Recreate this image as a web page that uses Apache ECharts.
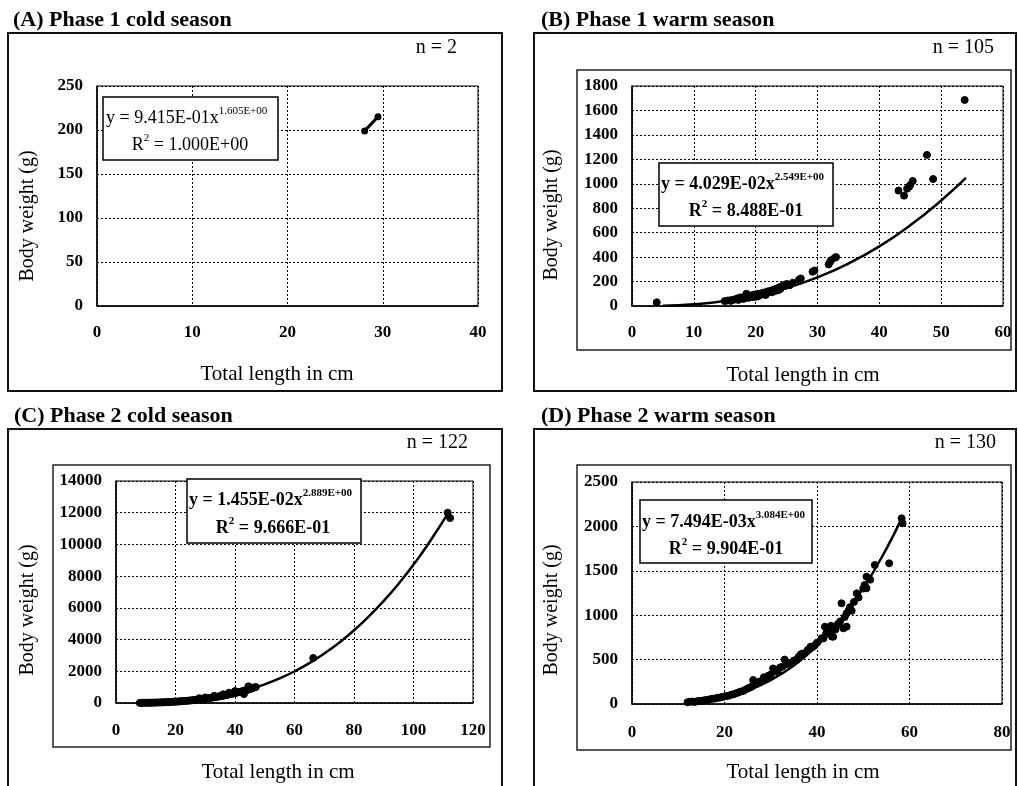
<!DOCTYPE html>
<html>
<head>
<meta charset="utf-8">
<script src="https://cdn.jsdelivr.net/npm/echarts@6/dist/echarts.min.js"></script>
<style>
  html, body { margin: 0; padding: 0; background: #fff; }
  #chart { width: 1018px; height: 786px; }
</style>
</head>
<body>
<div id="chart"></div>
<script>
// ---------------- DATA ----------------
const panelTitles = ['(A) Phase 1 cold season', '(B) Phase 1 warm season', '(C) Phase 2 cold season', '(D) Phase 2 warm season'];
const sampleSizes = ['n = 2', 'n = 105', 'n = 122', 'n = 130'];
const equations = ['y = 9.415E-01x', 'y = 4.029E-02x', 'y = 1.455E-02x', 'y = 7.494E-03x'];
const exponents = ['1.605E+00', '2.549E+00', '2.889E+00', '3.084E+00'];
const rSquared = ['1.000E+00', '8.488E-01', '9.666E-01', '9.904E-01'];
const xAxisTitle = 'Total length in cm';
const yAxisTitle = 'Body weight (g)';

// axis ranges: [min, max, interval]
const xRanges = [[0, 40, 10], [0, 60, 10], [0, 120, 20], [0, 80, 20]];
const yRanges = [[0, 250, 50], [0, 1800, 200], [0, 14000, 2000], [0, 2500, 500]];

// (A) Phase 1 cold season
const phase1ColdPoints = [[28.1, 199], [29.5, 215]];

// (B) Phase 1 warm season
const phase1WarmPoints = [
  [4, 30], [15, 40], [15.5, 45], [16, 48], [16, 42], [16.5, 52], [17, 55], [17, 62], [17.2, 50],
  [17.5, 60], [17.5, 70], [18, 58], [18, 72], [18.3, 65], [18.5, 100], [18.7, 80], [18.8, 68],
  [19, 70], [19, 85], [19.3, 78], [19.5, 90], [19.6, 74], [19.8, 82], [20, 75], [20, 95],
  [20.2, 88], [20.4, 80], [20.5, 100], [20.5, 85], [20.8, 92], [21, 105], [21, 95], [21.3, 110],
  [21.5, 100], [21.6, 90], [21.8, 115], [22, 108], [22, 120], [22.3, 118], [22.5, 125], [22.6, 112],
  [22.8, 130], [23, 135], [23, 120], [23.3, 140], [23.5, 145], [23.6, 128], [23.8, 150], [24, 155],
  [24, 140], [24.3, 160], [24.5, 170], [24.8, 165], [25, 180], [25.2, 175], [25.5, 170], [26, 190],
  [27, 215], [27.3, 225], [29.2, 280], [29.5, 290], [31.8, 340], [32, 360], [32.2, 375], [32.8, 395],
  [33, 400], [43.1, 944], [44, 903], [44.5, 960], [44.8, 976], [45, 990], [45.4, 1023],
  [47.7, 1236], [48.7, 1039], [53.8, 1686]
];
const phase1WarmFit = [[5, 2], [10, 14], [15, 40], [20, 84], [25, 147], [30, 235], [35, 347], [40, 488], [45, 660], [50, 863], [54, 1048]];

// (C) Phase 2 cold season
const phase2ColdPoints = [
  [8, 6], [8.5, 8], [9, 9], [9.5, 10], [10, 12], [10.5, 14], [11, 15], [11.5, 18], [12, 20], [12.5, 23],
  [13, 25], [13.5, 28], [14, 31], [14.5, 35], [15, 38], [15.5, 42], [16, 45], [16.5, 50], [17, 55],
  [17.5, 58], [18, 65], [18.5, 68], [19, 75], [19.5, 80], [20, 85], [20.5, 90], [21, 98], [21.5, 104],
  [22, 110], [22.5, 120], [23, 125], [23.5, 135], [24, 142], [24.5, 150], [25, 160], [25.5, 168],
  [26, 180], [26.5, 188], [27, 200], [27.5, 210], [28, 220], [28, 300], [28.5, 235], [29, 245],
  [29.5, 258], [30, 270], [30, 350], [30.5, 285], [31, 300], [31.5, 310], [32, 330], [32.5, 345],
  [33, 360], [33, 450], [33.5, 375], [34, 395], [34.5, 410], [35, 420], [35.5, 440], [36, 460],
  [36, 550], [36.5, 480], [37, 500], [37.5, 520], [38, 540], [38, 650], [38.5, 560], [39, 580],
  [39.5, 600], [40, 620], [40, 750], [40.5, 650], [41, 670], [41.5, 690], [42, 720], [42.5, 740],
  [42.8, 630], [43, 770], [43, 560], [43.5, 800], [44, 820], [44.5, 850], [44.5, 1050], [45, 880],
  [45, 1000], [45.5, 910], [46, 950], [46.5, 980], [47, 1010], [66.3, 2837], [111.5, 12000], [112.3, 11665]
];
const phase2ColdFit = [[8, 6], [10, 11], [15, 36], [20, 84], [25, 159], [30, 269], [35, 420], [40, 619], [45, 870],
  [50, 1179], [55, 1551], [60, 1996], [65, 2514], [70, 3120], [75, 3805], [80, 4585], [85, 5463],
  [90, 6437], [95, 7522], [100, 8730], [105, 10045], [112, 12090]];

// (D) Phase 2 warm season
const phase2WarmPoints = [
  [12, 20], [12.5, 25], [13, 28], [13.5, 22], [14, 30], [14.5, 33], [15, 35], [15.5, 40], [16, 45],
  [16.5, 48], [17, 55], [17.5, 60], [18, 62], [18.5, 70], [19, 72], [19.5, 80], [20, 85], [20.5, 90],
  [21, 95], [21.5, 105], [22, 110], [22.5, 120], [23, 130], [23.5, 140], [24, 145], [24.5, 160],
  [25, 175], [25.5, 185], [26, 200], [26.2, 270], [26.5, 220], [27, 230], [27.5, 250], [28, 260],
  [28.5, 300], [29, 280], [29.5, 320], [30, 330], [30.5, 400], [31, 380], [31.5, 360], [32, 410],
  [32.5, 420], [33, 500], [33.5, 450], [34, 460], [35, 490], [35.6, 495], [36, 530], [36.5, 560],
  [37, 570], [38, 610], [38.6, 645], [39, 640], [39.5, 660], [40, 690], [41, 740], [41.4, 740],
  [41.7, 871], [42, 800], [42.5, 850], [42.8, 796], [43, 880], [43.2, 760], [43.5, 758], [44, 840],
  [44.5, 900], [45, 930], [45.3, 1134], [45.7, 852], [46, 980], [46.4, 1021], [46.4, 871], [46.8, 1050],
  [47.1, 1090], [47.5, 1050], [48, 1150], [48.6, 1246], [49, 1200], [50, 1300], [50.3, 1340],
  [50.7, 1434], [50.7, 1303], [51.5, 1400], [52.5, 1565], [55.6, 1584], [58.3, 2091], [58.5, 2035]
];
const phase2WarmFit = [[12, 16], [15, 32], [20, 77], [25, 153], [30, 269], [35, 433], [40, 654], [45, 941], [50, 1303], [55, 1748], [58.5, 2113]];

// ---------------- LAYOUT ----------------
const FONT = "'Liberation Serif', 'Times New Roman', serif";
const grids = [
  { left: 97, top: 86, width: 381, height: 220 },
  { left: 632, top: 86, width: 371, height: 220 },
  { left: 116, top: 481, width: 357, height: 222 },
  { left: 632, top: 482, width: 370, height: 222 }
];
const xLabelMargins = [18, 18, 19, 20];

const chart = echarts.init(document.getElementById('chart'));

const plainNumber = v => String(v);

const xAxes = xRanges.map((r, i) => ({
  type: 'value', gridIndex: i, min: r[0], max: r[1], interval: r[2],
  axisLine: { show: true, onZero: false, lineStyle: { color: '#000', width: 1.5 } },
  axisTick: { show: false },
  axisLabel: { color: '#000', fontFamily: FONT, fontWeight: 'bold', fontSize: 17, margin: xLabelMargins[i], formatter: plainNumber },
  splitLine: { show: true, lineStyle: { color: '#000', width: 1, type: [2, 2] } }
}));
const yAxes = yRanges.map((r, i) => ({
  type: 'value', gridIndex: i, min: r[0], max: r[1], interval: r[2],
  axisLine: { show: true, onZero: false, lineStyle: { color: '#000', width: 1.5 } },
  axisTick: { show: false },
  axisLabel: { color: '#000', fontFamily: FONT, fontWeight: 'bold', fontSize: 17, margin: 14, formatter: plainNumber },
  splitLine: { show: true, lineStyle: { color: '#000', width: 1, type: [2, 2] } }
}));

const pointSets = [phase1ColdPoints, phase1WarmPoints, phase2ColdPoints, phase2WarmPoints];
const fitSets = [null, phase1WarmFit, phase2ColdFit, phase2WarmFit];

const series = [];
pointSets.forEach((pts, i) => {
  if (i === 0) {
    series.push({
      type: 'line', xAxisIndex: 0, yAxisIndex: 0, data: pts,
      symbol: 'circle', symbolSize: 7, showSymbol: true,
      itemStyle: { color: '#000' }, lineStyle: { color: '#000', width: 3 }, z: 3
    });
  } else {
    series.push({
      type: 'scatter', xAxisIndex: i, yAxisIndex: i, data: pts,
      symbol: 'circle', symbolSize: 7,
      itemStyle: { color: '#000', borderColor: '#000', borderWidth: 1, opacity: 1 }, z: 2
    });
    series.push({
      type: 'line', xAxisIndex: i, yAxisIndex: i, data: fitSets[i],
      smooth: true, showSymbol: false, symbol: 'none',
      lineStyle: { color: '#000', width: 2.5 }, z: 3
    });
  }
});

// ---------------- DECORATION ----------------
const graphic = [];
// outer frames
[[8, 33, 494, 358], [534, 33, 482, 358], [8, 429, 494, 370], [534, 429, 482, 370]].forEach(f => {
  graphic.push({ type: 'rect', shape: { x: f[0], y: f[1], width: f[2], height: f[3] },
    style: { fill: 'none', stroke: '#111', lineWidth: 2 }, z: 1, silent: true });
});
// inner chart-area boxes
[[577, 70, 434, 280], [53, 465, 437, 282], [577, 465, 434, 285]].forEach(f => {
  graphic.push({ type: 'rect', shape: { x: f[0], y: f[1], width: f[2], height: f[3] },
    style: { fill: 'none', stroke: '#222', lineWidth: 1.5 }, z: 1, silent: true });
});
// panel titles
[[13, 20], [541, 20], [14, 416], [541, 416]].forEach((p, i) => {
  graphic.push({ type: 'text', x: p[0], y: p[1], z: 5,
    style: { text: panelTitles[i], font: 'bold 22px ' + FONT, fill: '#000', align: 'left', verticalAlign: 'middle' } });
});
// sample sizes
[[457, 48], [994, 48], [468, 443], [996, 443]].forEach((p, i) => {
  graphic.push({ type: 'text', x: p[0], y: p[1], z: 5,
    style: { text: sampleSizes[i], font: '20px ' + FONT, fill: '#000', align: 'right', verticalAlign: 'middle' } });
});
// x axis titles
[[277, 374], [803, 375], [278, 772], [803, 772]].forEach(p => {
  graphic.push({ type: 'text', x: p[0], y: p[1], z: 5,
    style: { text: xAxisTitle, font: '21px ' + FONT, fill: '#000', align: 'center', verticalAlign: 'middle' } });
});
// y axis titles
[[28, 216], [552, 215], [28, 610], [552, 610]].forEach(p => {
  graphic.push({ type: 'text', x: p[0], y: p[1], rotation: Math.PI / 2, z: 5,
    style: { text: yAxisTitle, font: '20px ' + FONT, fill: '#000', align: 'center', verticalAlign: 'middle' } });
});
// equation boxes
const eqBoxes = [[103, 97, 175, 63], [659, 163, 174, 63], [187, 479, 174, 64], [640, 500, 172, 63]];
const eqLine1 = [[106, 118], [661, 184], [189, 500], [642, 522]];
const eqLine2 = [[190, 145], [746, 211], [273, 528], [726, 549]];
eqBoxes.forEach((b, i) => {
  const weight = i === 0 ? 'normal' : 'bold';
  const rich = {
    m: { fontSize: 18, fontFamily: FONT, fontWeight: weight, fill: '#000', lineHeight: 24 },
    s: { fontSize: 11, fontFamily: FONT, fontWeight: weight, fill: '#000', lineHeight: 11, verticalAlign: 'top' }
  };
  graphic.push({ type: 'rect', shape: { x: b[0], y: b[1], width: b[2], height: b[3] },
    style: { fill: '#fff', stroke: '#000', lineWidth: 1.5 }, z: 20, silent: true });
  graphic.push({ type: 'text', x: eqLine1[i][0], y: eqLine1[i][1], z: 21,
    style: { text: '{m|' + equations[i] + '}{s|' + exponents[i] + '}', rich: rich, align: 'left', verticalAlign: 'middle' } });
  graphic.push({ type: 'text', x: eqLine2[i][0], y: eqLine2[i][1], z: 21,
    style: { text: '{m|R}{s|2}{m| = ' + rSquared[i] + '}', rich: rich, align: 'center', verticalAlign: 'middle' } });
});

chart.setOption({
  animation: false,
  backgroundColor: '#fff',
  grid: grids.map(g => Object.assign({ show: true, borderColor: '#000', borderWidth: 1, backgroundColor: 'transparent' }, g)),
  xAxis: xAxes,
  yAxis: yAxes,
  series: series,
  graphic: graphic
});
</script>
</body>
</html>
